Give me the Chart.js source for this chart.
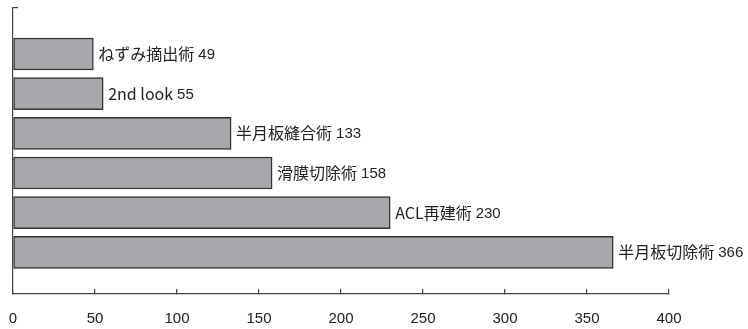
<!DOCTYPE html>
<html>
<head>
<meta charset="utf-8">
<script src="https://cdn.jsdelivr.net/npm/chart.js@4"></script>
<style>
  html, body { margin: 0; padding: 0; background: #fff; }
  #wrap { width: 748px; height: 329px; }
</style>
</head>
<body>
<div id="wrap"><canvas id="chart" width="748" height="329"></canvas></div>
<script>
// Data
const procedures = ['ねずみ摘出術', '2nd look', '半月板縫合術', '滑膜切除術', 'ACL再建術', '半月板切除術'];
const counts = [49, 55, 133, 158, 230, 366];
const xTicks = [0, 50, 100, 150, 200, 250, 300, 350, 400];

const numFont = '"Liberation Sans Narrow", "Liberation Sans", Arial, sans-serif';
const jpFont = '"Noto Sans CJK JP", sans-serif';
const axisColor = '#444';

// Label at the end of each bar: name + count
const barLabels = {
    id: 'barLabels',
    afterDatasetsDraw(chart) {
        const ctx = chart.ctx;
        const meta = chart.getDatasetMeta(0);
        ctx.save();
        ctx.fillStyle = '#222';
        ctx.textBaseline = 'middle';
        meta.data.forEach((bar, i) => {
            let x = bar.x + 5;
            const y = bar.y;
            ctx.font = '16px ' + jpFont;
            ctx.fillText(procedures[i], x, y);
            x += ctx.measureText(procedures[i]).width + 4;
            ctx.font = '15px ' + numFont;
            ctx.fillText(String(counts[i]), x, y + 1);
        });
        ctx.restore();
    }
};

new Chart(document.getElementById('chart'), {
    type: 'bar',
    data: {
        datasets: [{
            data: counts.map((c, i) => ({ x: c, y: i })),
            backgroundColor: '#a7a8ab',
            borderColor: '#333',
            borderWidth: 1.5,
            borderSkipped: false,
            barThickness: 32
        }]
    },
    options: {
        indexAxis: 'y',
        responsive: false,
        animation: false,
        layout: { autoPadding: false, padding: { top: 8, right: 79, left: 0, bottom: 0 } },
        plugins: { legend: { display: false }, tooltip: { enabled: false } },
        scales: {
            x: {
                type: 'linear',
                min: xTicks[0],
                max: xTicks[xTicks.length - 1],
                afterFit: s => { s.height = 35; s.paddingLeft = 0; s.paddingRight = 0; },
                border: { color: axisColor, width: 1.2 },
                grid: { drawOnChartArea: false, tickLength: -5, color: axisColor, lineWidth: 1.2 },
                ticks: {
                    stepSize: xTicks[1] - xTicks[0],
                    color: '#222',
                    padding: 21,
                    font: { family: numFont, size: 15 }
                }
            },
            y: {
                type: 'linear',
                bounds: 'data',
                reverse: true,
                offset: false,
                min: -1.16,
                max: 6.05,
                afterFit: s => { s.width = 13; },
                border: { color: axisColor, width: 1.2 },
                grid: {
                    drawOnChartArea: false,
                    offset: false,
                    tickLength: -5,
                    lineWidth: 1.2,
                    // only the tick at the top end of the axis
                    color: c => (c.tick && c.tick.value === c.scale.min) ? axisColor : 'rgba(0,0,0,0)'
                },
                ticks: { display: false }
            }
        }
    },
    plugins: [barLabels]
});
</script>
</body>
</html>
